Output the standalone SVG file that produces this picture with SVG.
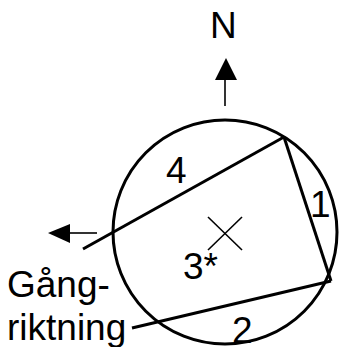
<svg xmlns="http://www.w3.org/2000/svg" width="340" height="347" viewBox="0 0 340 347">
<style>
.t{font-family:"Liberation Sans",Arial,sans-serif;font-size:37px;fill:#000}
.thick{fill:none;stroke:#000;stroke-width:3}
.thin{fill:none;stroke:#000;stroke-width:1.6}
</style>
<rect width="340" height="347" fill="#fff"/>
<g id="circle"><circle class="thick" cx="225" cy="232" r="112"/></g>
<g id="connectors">
<line class="thick" x1="284" y1="137" x2="83" y2="249"/>
<line class="thick" x1="284" y1="137" x2="331" y2="281"/>
<line class="thick" x1="331" y1="281" x2="132" y2="328"/>
<line class="thin" x1="225" y1="106" x2="225" y2="78"/>
<polygon points="226,58 215,80 237,80" fill="#000"/>
<line class="thin" x1="97" y1="233" x2="68" y2="233"/>
<polygon points="48,233 70,224 70,243" fill="#000"/>
<line class="thin" x1="208" y1="217" x2="242" y2="250"/>
<line class="thin" x1="242" y1="217" x2="208" y2="250"/>
</g>
<g id="labels">
<text class="t" x="210" y="38">N</text>
<text class="t" x="166" y="183">4</text>
<text class="t" x="310" y="217">1</text>
<text class="t" x="183" y="279">3*</text>
<text class="t" x="232" y="343">2</text>
<text class="t" x="7" y="297">Gång-</text>
<text class="t" x="7" y="340">riktning</text>
</g>
</svg>
